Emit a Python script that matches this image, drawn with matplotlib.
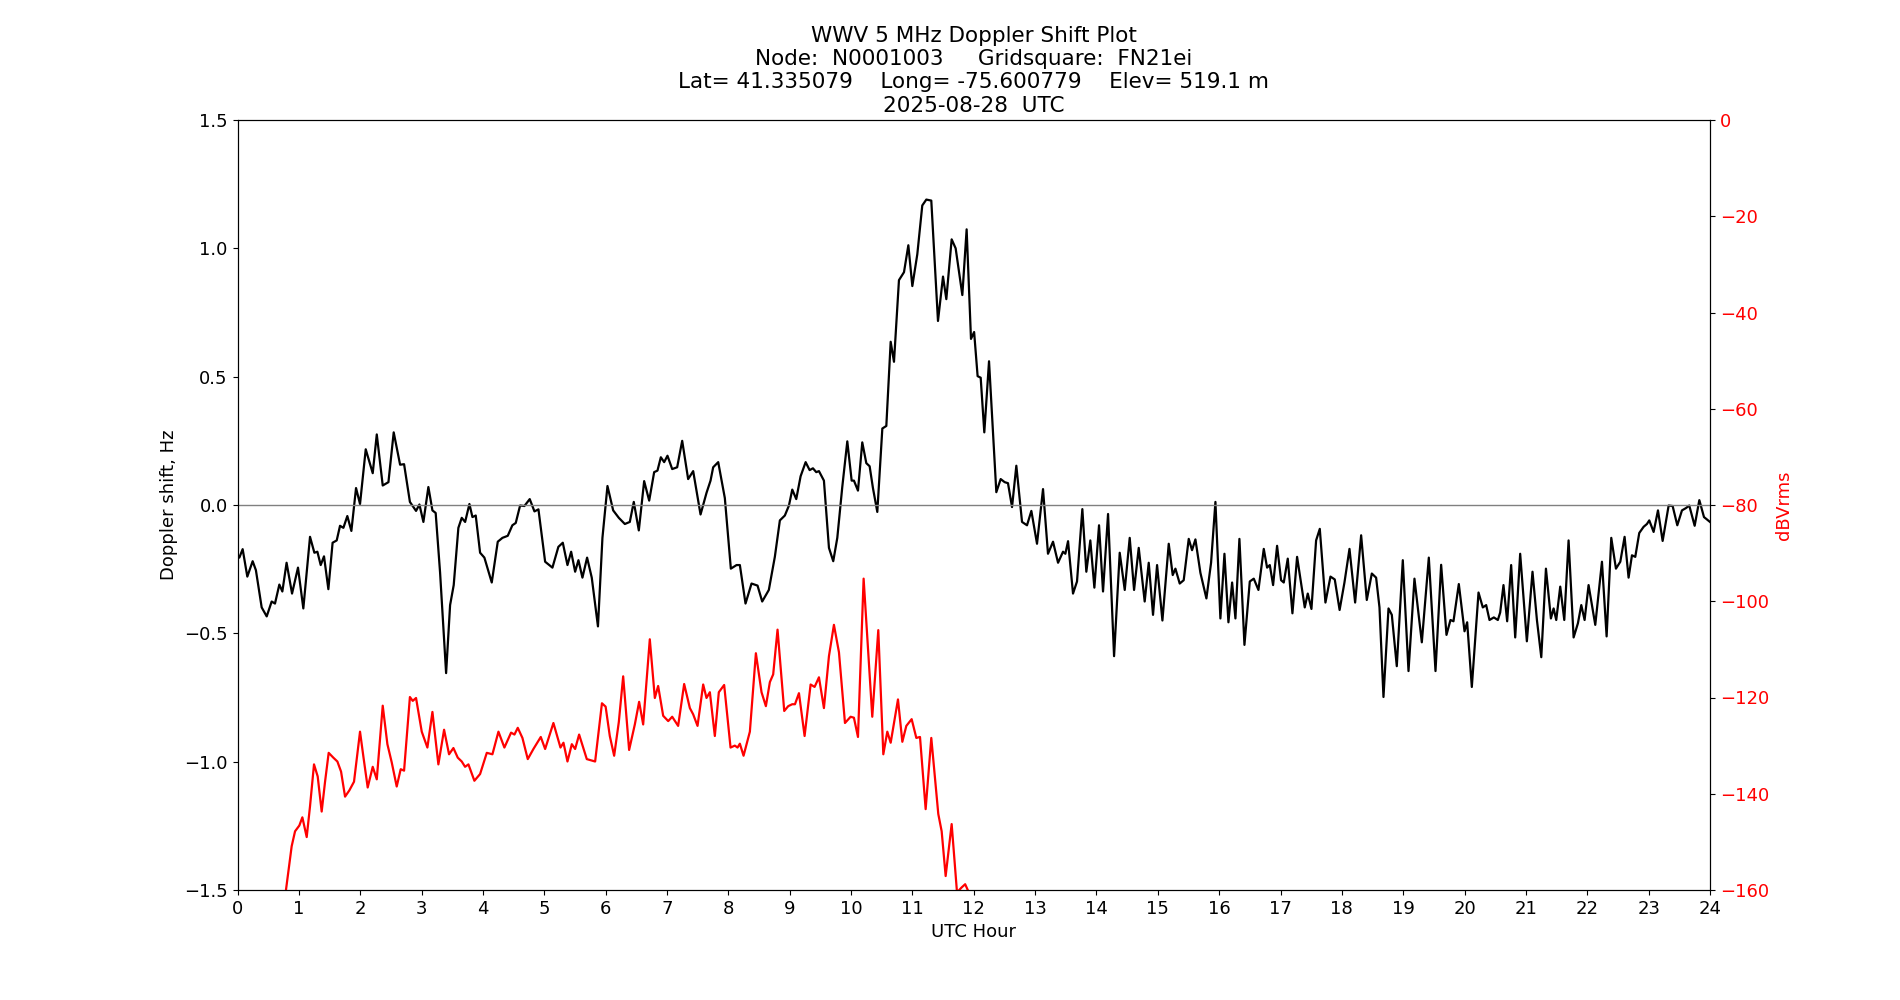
import matplotlib
matplotlib.use("Agg")
import matplotlib.pyplot as plt

# Doppler shift (Hz) vs UTC hour
dop_hour = [0.0, 0.03, 0.084, 0.16, 0.247, 0.30, 0.394, 0.476, 0.557, 0.611, 0.682, 0.731, 0.80, 0.889, 0.986,
            1.073, 1.182, 1.253, 1.302, 1.356, 1.41, 1.481, 1.55, 1.617, 1.671, 1.726, 1.79, 1.856, 1.932, 1.997,
            2.09, 2.204, 2.27, 2.367, 2.46, 2.546, 2.65, 2.715, 2.81, 2.91, 2.965, 3.03, 3.111, 3.177, 3.23,
            3.302, 3.4, 3.465, 3.524, 3.6, 3.655, 3.71, 3.78, 3.829, 3.883, 3.954, 4.024, 4.144, 4.242, 4.318,
            4.405, 4.48, 4.535, 4.606, 4.676, 4.763, 4.84, 4.905, 5.014, 5.133, 5.23, 5.302, 5.378, 5.438,
            5.503, 5.557, 5.622, 5.698, 5.774, 5.875, 5.948, 6.03, 6.123, 6.215, 6.313, 6.394, 6.459, 6.541,
            6.628, 6.71, 6.791, 6.845, 6.9, 6.954, 7.008, 7.085, 7.166, 7.248, 7.345, 7.427, 7.547, 7.644,
            7.71, 7.753, 7.835, 7.943, 8.041, 8.134, 8.188, 8.28, 8.378, 8.476, 8.552, 8.66, 8.758, 8.84,
            8.921, 8.988, 9.042, 9.107, 9.178, 9.26, 9.325, 9.379, 9.433, 9.477, 9.558, 9.64, 9.71, 9.776,
            9.857, 9.939, 10.01, 10.047, 10.113, 10.183, 10.249, 10.303, 10.357, 10.428, 10.51, 10.575,
            10.646, 10.7, 10.781, 10.863, 10.934, 10.999, 11.08, 11.161, 11.227, 11.308, 11.417, 11.499,
            11.553, 11.64, 11.705, 11.814, 11.884, 11.955, 12.006, 12.063, 12.113, 12.172, 12.249, 12.368,
            12.439, 12.504, 12.558, 12.624, 12.694, 12.787, 12.868, 12.939, 13.031, 13.129, 13.21, 13.292,
            13.374, 13.455, 13.493, 13.537, 13.618, 13.683, 13.77, 13.835, 13.9, 13.966, 14.042, 14.107,
            14.189, 14.287, 14.379, 14.461, 14.542, 14.613, 14.689, 14.786, 14.852, 14.922, 14.988, 15.075,
            15.178, 15.243, 15.287, 15.357, 15.422, 15.504, 15.558, 15.613, 15.694, 15.792, 15.868, 15.939,
            16.02, 16.086, 16.151, 16.211, 16.265, 16.33, 16.412, 16.499, 16.564, 16.64, 16.727, 16.781,
            16.825, 16.879, 16.944, 17.009, 17.053, 17.118, 17.194, 17.27, 17.395, 17.444, 17.504, 17.58,
            17.64, 17.732, 17.814, 17.884, 17.963, 18.042, 18.124, 18.216, 18.314, 18.406, 18.488, 18.558,
            18.613, 18.678, 18.76, 18.814, 18.895, 18.993, 19.086, 19.183, 19.303, 19.417, 19.526, 19.618,
            19.705, 19.77, 19.819, 19.906, 19.999, 20.042, 20.118, 20.227, 20.297, 20.352, 20.406, 20.477,
            20.542, 20.58, 20.634, 20.694, 20.759, 20.825, 20.906, 21.015, 21.107, 21.179, 21.25, 21.326,
            21.407, 21.451, 21.494, 21.559, 21.625, 21.695, 21.777, 21.847, 21.902, 21.956, 22.021, 22.13,
            22.239, 22.315, 22.391, 22.467, 22.538, 22.608, 22.673, 22.728, 22.782, 22.847, 22.918, 22.972,
            23.01, 23.081, 23.152, 23.228, 23.326, 23.391, 23.467, 23.543, 23.608, 23.662, 23.75, 23.826,
            23.902, 24.0]
dop_hz = [-0.195, -0.205, -0.172, -0.279, -0.219, -0.254, -0.399, -0.434, -0.376, -0.384, -0.31, -0.337, -0.225,
          -0.345, -0.244, -0.403, -0.124, -0.186, -0.182, -0.234, -0.2, -0.328, -0.147, -0.138, -0.081, -0.089,
          -0.043, -0.101, 0.066, 0.004, 0.217, 0.124, 0.275, 0.076, 0.089, 0.283, 0.157, 0.159, 0.012, -0.023,
          0.002, -0.066, 0.07, -0.021, -0.031, -0.264, -0.655, -0.39, -0.312, -0.089, -0.05, -0.066, 0.004,
          -0.047, -0.041, -0.186, -0.205, -0.302, -0.143, -0.128, -0.12, -0.079, -0.07, -0.002, -0.004, 0.023,
          -0.025, -0.017, -0.221, -0.244, -0.163, -0.147, -0.234, -0.182, -0.26, -0.215, -0.283, -0.205, -0.283,
          -0.473, -0.128, 0.074, -0.021, -0.05, -0.074, -0.066, 0.012, -0.099, 0.093, 0.017, 0.128, 0.134, 0.186,
          0.167, 0.192, 0.14, 0.147, 0.25, 0.101, 0.132, -0.037, 0.047, 0.095, 0.147, 0.167, 0.027, -0.248,
          -0.234, -0.234, -0.384, -0.306, -0.314, -0.376, -0.331, -0.202, -0.06, -0.041, -0.002, 0.06, 0.023,
          0.112, 0.167, 0.136, 0.143, 0.128, 0.132, 0.095, -0.167, -0.219, -0.128, 0.07, 0.248, 0.095, 0.095,
          0.056, 0.244, 0.163, 0.151, 0.066, -0.027, 0.298, 0.308, 0.636, 0.558, 0.876, 0.907, 1.012, 0.853,
          0.977, 1.167, 1.19, 1.186, 0.717, 0.89, 0.802, 1.035, 1.0, 0.818, 1.074, 0.647, 0.674, 0.502, 0.496,
          0.283, 0.56, 0.05, 0.101, 0.089, 0.085, -0.008, 0.153, -0.066, -0.079, -0.023, -0.151, 0.062, -0.19,
          -0.143, -0.225, -0.182, -0.19, -0.141, -0.345, -0.298, -0.016, -0.26, -0.138, -0.322, -0.079, -0.337,
          -0.035, -0.589, -0.186, -0.331, -0.128, -0.331, -0.167, -0.376, -0.225, -0.428, -0.234, -0.45, -0.151,
          -0.273, -0.248, -0.306, -0.293, -0.132, -0.176, -0.134, -0.264, -0.364, -0.225, 0.012, -0.442, -0.19,
          -0.457, -0.302, -0.442, -0.132, -0.545, -0.298, -0.287, -0.331, -0.171, -0.244, -0.234, -0.312, -0.159,
          -0.293, -0.302, -0.209, -0.422, -0.202, -0.399, -0.345, -0.405, -0.138, -0.093, -0.38, -0.279, -0.29,
          -0.409, -0.302, -0.171, -0.38, -0.118, -0.37, -0.267, -0.283, -0.399, -0.748, -0.403, -0.428, -0.628,
          -0.215, -0.647, -0.287, -0.535, -0.205, -0.647, -0.233, -0.506, -0.448, -0.453, -0.308, -0.492, -0.457,
          -0.709, -0.341, -0.399, -0.39, -0.448, -0.438, -0.448, -0.419, -0.312, -0.453, -0.234, -0.516, -0.19,
          -0.531, -0.26, -0.448, -0.593, -0.248, -0.442, -0.403, -0.448, -0.318, -0.448, -0.138, -0.516, -0.461,
          -0.39, -0.448, -0.312, -0.467, -0.221, -0.512, -0.128, -0.248, -0.221, -0.124, -0.283, -0.196, -0.202,
          -0.109, -0.085, -0.074, -0.06, -0.105, -0.021, -0.14, -0.002, -0.004, -0.079, -0.021, -0.012, -0.002,
          -0.081, 0.019, -0.047, -0.066]

# Signal level (dBVrms) vs UTC hour
pwr_hour = [0.70, 0.79, 0.883, 0.938, 1.008, 1.057, 1.128, 1.182, 1.247, 1.307, 1.372, 1.427, 1.486, 1.562,
            1.628, 1.688, 1.753, 1.823, 1.899, 1.997, 2.052, 2.122, 2.204, 2.27, 2.367, 2.443, 2.514, 2.595,
            2.66, 2.715, 2.81, 2.856, 2.91, 3.003, 3.095, 3.177, 3.274, 3.367, 3.448, 3.519, 3.59, 3.655,
            3.709, 3.764, 3.861, 3.954, 4.063, 4.155, 4.253, 4.35, 4.459, 4.514, 4.568, 4.644, 4.731, 4.823,
            4.943, 5.014, 5.149, 5.264, 5.313, 5.378, 5.449, 5.503, 5.568, 5.693, 5.829, 5.94, 6.0, 6.068,
            6.139, 6.215, 6.286, 6.383, 6.476, 6.546, 6.612, 6.72, 6.802, 6.856, 6.938, 7.02, 7.085, 7.182,
            7.28, 7.373, 7.427, 7.498, 7.59, 7.644, 7.699, 7.78, 7.845, 7.932, 8.036, 8.106, 8.15, 8.188,
            8.248, 8.351, 8.449, 8.541, 8.612, 8.677, 8.731, 8.802, 8.911, 8.976, 9.041, 9.086, 9.151, 9.243,
            9.341, 9.406, 9.477, 9.558, 9.64, 9.721, 9.803, 9.901, 9.993, 10.047, 10.113, 10.205, 10.346,
            10.444, 10.526, 10.591, 10.646, 10.765, 10.836, 10.901, 10.988, 11.064, 11.124, 11.216, 11.308,
            11.422, 11.477, 11.542, 11.64, 11.727, 11.80, 11.86, 11.92, 12.0]
pwr_db = [-168.0, -160.0, -150.9, -147.8, -146.6, -144.9, -149.0, -142.6, -133.9, -136.4, -143.7, -137.5, -131.5,
          -132.5, -133.3, -135.4, -140.6, -139.3, -137.5, -127.1, -132.3, -138.7, -134.4, -137.0, -121.7, -129.7,
          -133.5, -138.5, -134.9, -135.2, -119.9, -120.7, -120.1, -127.1, -130.4, -123.0, -133.9, -126.7, -131.8,
          -130.5, -132.5, -133.3, -134.4, -133.9, -137.3, -135.9, -131.5, -131.8, -127.1, -130.4, -127.3, -127.7,
          -126.3, -128.4, -132.8, -130.7, -128.2, -130.7, -125.3, -130.4, -129.4, -133.3, -129.7, -130.7, -127.7,
          -132.8, -133.3, -121.2, -121.9, -128.0, -132.1, -125.1, -115.6, -130.9, -125.6, -120.9, -125.6, -107.9,
          -120.1, -117.6, -123.8, -124.9, -124.0, -125.9, -117.2, -122.2, -123.5, -125.9, -117.3, -120.1, -118.9,
          -128.0, -118.9, -117.4, -130.4, -130.0, -130.4, -129.6, -132.1, -127.1, -110.8, -118.9, -121.8, -116.8,
          -115.2, -105.9, -122.8, -121.8, -121.4, -121.4, -119.1, -128.0, -117.3, -117.8, -115.8, -122.2, -111.4,
          -104.9, -110.6, -125.3, -124.0, -124.2, -128.2, -95.3, -124.0, -106.0, -131.8, -127.1, -129.4, -120.4,
          -129.2, -125.9, -124.5, -128.4, -128.2, -143.2, -128.4, -144.2, -147.8, -157.1, -146.3, -160.5, -159.5,
          -158.8, -160.5, -166.0]

title_lines = ["WWV 5 MHz Doppler Shift Plot",
               "Node:  N0001003     Gridsquare:  FN21ei",
               "Lat= 41.335079    Long= -75.600779    Elev= 519.1 m",
               "2025-08-28  UTC"]
x_ticks = list(range(0, 25))

fig, ax = plt.subplots(figsize=(19, 10), dpi=100)
ax.plot(dop_hour, dop_hz, color="black", lw=1.6)
ax.axhline(0, color="gray", lw=1)
ax.set_xlim(0, 24)
ax.set_ylim(-1.5, 1.5)
ax.set_xticks(x_ticks)
ax.tick_params(labelsize=13)
ax.set_xlabel("UTC Hour", fontsize=13)
ax.set_ylabel("Doppler shift, Hz", fontsize=13)
ax.set_title("\n".join(title_lines), fontsize=15.5)

ax2 = ax.twinx()
ax2.plot(pwr_hour, pwr_db, color="red", lw=1.6)
ax2.set_ylim(-160, 0)
ax2.tick_params(labelsize=13, labelcolor="red")
ax2.set_ylabel("dBVrms", color="red", fontsize=13)

fig.savefig("out.png", dpi=100)
